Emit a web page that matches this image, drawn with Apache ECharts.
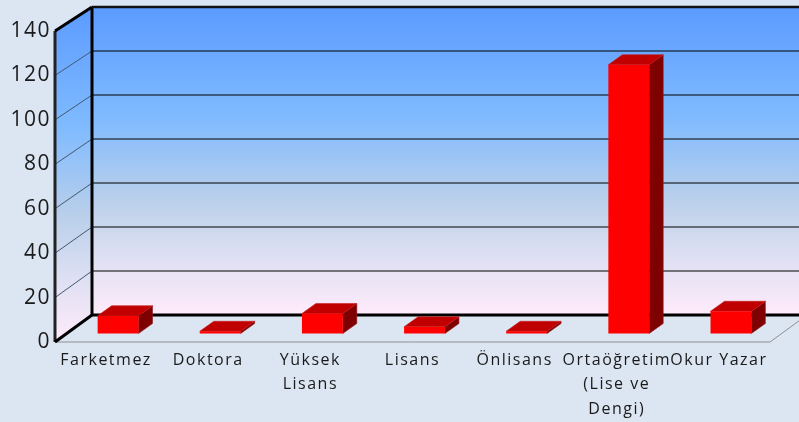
<!DOCTYPE html>
<html lang="tr">
<head>
    <meta charset="UTF-8">
    <title>Chart</title>
    <script src="https://cdn.jsdelivr.net/npm/echarts@6/dist/echarts.min.js"></script>
    <style>
        *{
            margin: 0;
            padding: 0;
        }
        #main{
            width: 799px;
            height: 422px;
        }
    </style>
</head>
<body>
<div id="main"></div>
<script>
    let categories = ['Farketmez', 'Doktora', 'Yüksek\nLisans', 'Lisans', 'Önlisans', 'Ortaöğretim\n(Lise ve\nDengi)', 'Okur Yazar'];
    let values = [8, 1, 9, 3, 1, 121, 10];
    let yTicks = [0, 20, 40, 60, 80, 100, 120, 140];

    // depth of the fake 3d box, px
    let wallDx = 37, wallDy = -27;
    // back wall is a touch shorter than the front edge
    let backScale = 308 / 311;
    // bars stand part way into the floor
    let barDx = 12, barDy = -8.5;
    let topDx = 14, topDy = -10;

    let wallFill = {
        type: 'linear', x: 0, y: 0, x2: 0, y2: 1,
        colorStops: [
            {offset: 0, color: '#5b9bff'},
            {offset: 0.36, color: '#80bbff'},
            {offset: 0.62, color: '#b9cfea'},
            {offset: 0.8, color: '#dcdff2'},
            {offset: 1, color: '#ffebfb'}
        ]
    };

    function seg(a, b, color, width){
        return {
            type: 'line',
            shape: {x1: a[0], y1: a[1], x2: b[0], y2: b[1]},
            style: {stroke: color, lineWidth: width}
        };
    }
    function poly(points, fill, stroke){
        return {
            type: 'polygon',
            shape: {points: points},
            style: {fill: fill, stroke: stroke, lineWidth: 0.6}
        };
    }

    function renderWalls(params, api){
        let top = api.coord([0, 140])[1];
        let bottom = api.coord([0, 0])[1];
        let sys = params.coordSys;
        let left = sys.x, right = sys.x + sys.width;
        let backL = left + wallDx, backR = right + wallDx;
        let backY = function(y){ return bottom + wallDy - (bottom - y) * backScale; };
        let backTop = backY(top), backBottom = backY(bottom);
        let kids = [
            poly([[left, top], [backL, backTop], [backL, backBottom], [left, bottom]], wallFill, 'none'),
            poly([[backL, backTop], [backR, backTop], [backR, backBottom], [backL, backBottom]], wallFill, 'none')
        ];
        yTicks.forEach(function(t){
            let y = api.coord([0, t])[1];
            if(t > 0 && t < 140){
                kids.push(seg([left, y], [backL, backY(y)], '#44586f', 1));
                kids.push(seg([backL, backY(y)], [backR, backY(y)], '#000', 1));
            }
        });
        // floor
        kids.push(seg([left, bottom], [right, bottom], '#8f8f8f', 1));
        kids.push(seg([right, bottom], [backR, backBottom], '#8f8f8f', 1));
        // heavy frame
        kids.push(seg([left, top], [left, bottom], '#222', 3));
        kids.push(seg([backL, backTop], [backL, backBottom], '#000', 3));
        kids.push(seg([left, top], [backL, backTop], '#000', 3));
        kids.push(seg([left, bottom], [backL, backBottom], '#000', 3));
        kids.push(seg([backL, backTop], [backR, backTop], '#111', 2.5));
        kids.push(seg([backL, backBottom], [backR, backBottom], '#000', 3));
        return {type: 'group', children: kids};
    }

    function renderBar(params, api){
        let base = api.coord([api.value(0), 0]);
        let head = api.coord([api.value(0), api.value(1)]);
        let w = api.size([1, 0])[0] * 0.4;
        let x0 = base[0] + barDx - w / 2, x1 = x0 + w;
        let y0 = base[1] + barDy, y1 = head[1] + barDy;
        return {
            type: 'group',
            children: [
                poly([[x1, y1], [x1 + topDx, y1 + topDy], [x1 + topDx, y0 + topDy], [x1, y0]], '#7f0000', '#8f1a1a'),
                poly([[x0, y1], [x0 + topDx, y1 + topDy], [x1 + topDx, y1 + topDy], [x1, y1]], '#c00000', '#c81e1e'),
                poly([[x0, y1], [x1, y1], [x1, y0], [x0, y0]], '#ff0000', 'none')
            ]
        };
    }

    let myChart = echarts.init(document.getElementById('main'));

    myChart.setOption({
        animation: false,
        backgroundColor: '#dce6f2',
        grid: {left: 55, top: 31, width: 715, height: 311},
        xAxis: {
            type: 'category',
            data: categories,
            axisLine: {show: false},
            axisTick: {show: false},
            axisLabel: {
                interval: 0,
                margin: 6,
                color: '#1a1a1a',
                fontFamily: 'Open Sans',
                fontSize: 16,
                lineHeight: 24.5
            }
        },
        yAxis: {
            type: 'value',
            min: 0,
            max: 140,
            interval: 20,
            axisLine: {show: false},
            axisTick: {show: false},
            splitLine: {show: false},
            axisLabel: {
                margin: 4,
                color: '#1a1a1a',
                fontFamily: 'Open Sans',
                fontSize: 21
            }
        },
        series: [
            {
                type: 'custom',
                renderItem: renderWalls,
                data: [0],
                encode: {x: 0},
                silent: true,
                clip: false,
                z: 1
            },
            {
                type: 'custom',
                renderItem: renderBar,
                data: values.map(function(v, i){ return [i, v]; }),
                encode: {x: 0, y: 1},
                clip: false,
                z: 2
            }
        ]
    });

    // labels in the original are spaced out, echarts has no option for it
    let zr = myChart.getZr();
    zr.flush();
    document.querySelector('#main canvas').getContext('2d').letterSpacing = '1.5px';
    zr.painter.refresh(true);
</script>
</body>
</html>
